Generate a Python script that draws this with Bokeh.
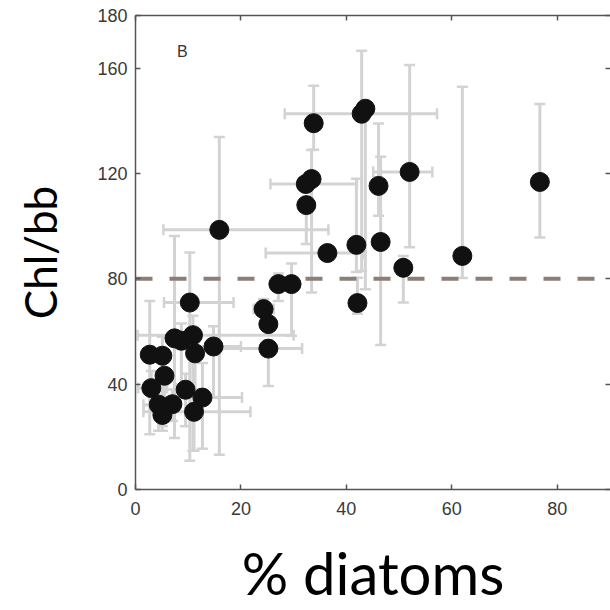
import numpy as np
from bokeh.plotting import figure
from bokeh.models import Range1d, FixedTicker, LinearAxis, Label
from bokeh.embed import file_html
from bokeh.resources import INLINE

nan = np.nan

# % diatoms (x) and Chl/bb (y) with error bounds (nan = no bar on that side)
diatoms = [15.9, 33.8, 42.9, 43.6, 33.4, 32.3, 32.4, 36.4, 52.0, 46.1, 46.5, 41.9,
           42.1, 50.8, 62.0, 76.7, 27.1, 29.6, 24.3, 25.2, 25.2, 10.3, 7.4, 8.7,
           10.9, 11.3, 14.8, 2.7, 5.1, 5.5, 3.0, 9.5, 12.7, 4.4, 7.0, 5.1, 11.1]
chl_bb = [98.6, 139.1, 142.7, 144.6, 117.9, 116.0, 108.0, 89.8, 120.6, 115.3, 94.0, 92.9,
          70.8, 84.2, 88.7, 116.8, 78.0, 78.0, 68.5, 62.8, 53.5, 71.0, 57.4, 56.5,
          58.6, 51.7, 54.3, 51.2, 50.8, 43.2, 38.5, 37.9, 34.9, 32.2, 32.4, 28.3, 29.5]
diatoms_lo = [5.3, nan, 28.3, nan, nan, 25.6, nan, 24.7, 45.1, nan, nan, nan,
              nan, nan, nan, nan, nan, nan, 22.4, nan, 14.8, 5.4, nan, nan,
              0.4, nan, 11.0, nan, nan, nan, 0.5, nan, 5.3, 1.5, nan, nan, 1.5]
diatoms_hi = [36.6, nan, 57.2, nan, nan, 42.0, nan, 43.3, 56.3, nan, nan, nan,
              nan, nan, nan, nan, nan, nan, 26.2, nan, 31.6, 18.6, nan, nan,
              30.0, nan, 20.0, nan, nan, nan, 6.0, nan, 20.2, 8.0, nan, nan, 21.8]
chl_lo = [13.2, 129.0, 83.0, 76.0, 74.8, nan, 93.2, nan, 92.0, 104.0, 54.9, 82.6,
          66.7, 71.0, 80.3, 95.7, 71.6, 58.4, nan, nan, 39.3, 10.9, 19.6, 40.0,
          14.7, 38.0, 35.0, 21.0, 22.3, 30.0, 32.0, 24.0, 15.5, 22.3, 26.0, 24.0, 14.7]
chl_hi = [133.9, 153.3, 166.6, nan, 128.9, nan, nan, nan, 161.2, 139.0, 126.4, 118.0,
          80.4, 88.7, 152.9, 146.4, 82.0, 85.8, 72.3, nan, 56.5, 90.0, 96.3, 63.0,
          66.0, 58.0, 62.0, 71.6, 58.0, 50.0, 45.0, 44.0, 48.0, 36.0, 38.0, 31.0, 36.0]

threshold = 80
x_ticks = [0, 20, 40, 60, 80]
y_ticks = [0, 40, 80, 120, 160, 180]
x_max, y_max = 90.1, 180

x = np.array(diatoms)
y = np.array(chl_bb)
xlo = np.array(diatoms_lo); xhi = np.array(diatoms_hi)
ylo = np.array(chl_lo); yhi = np.array(chl_hi)

seg_x0 = np.where(np.isnan(xlo), x, xlo)
seg_x1 = np.where(np.isnan(xhi), x, xhi)
seg_y0 = np.where(np.isnan(ylo), y, ylo)
seg_y1 = np.where(np.isnan(yhi), y, yhi)

p = figure(width=610, height=610, output_backend="svg", toolbar_location=None,
           x_range=Range1d(0, x_max), y_range=Range1d(0, y_max),
           min_border_left=135, min_border_right=0, min_border_top=15, min_border_bottom=121,
           x_axis_location=None, y_axis_location=None)
p.outline_line_color = None
p.grid.visible = False
p.background_fill_color = "white"
p.border_fill_color = "white"

AX = "#555555"
LBL = "#3a3a3a"
FONT = "Liberation Sans"

def style(ax, labels=True):
    ax.axis_line_color = AX
    ax.axis_line_width = 1.5
    ax.major_tick_in = 5
    ax.major_tick_out = 0
    ax.major_tick_line_color = AX
    ax.major_tick_line_width = 1.5
    ax.minor_tick_line_color = None
    if labels:
        ax.major_label_text_font = FONT
        ax.major_label_text_font_size = "18px"
        ax.major_label_text_color = LBL
    else:
        ax.major_label_text_font_size = "0px"
        ax.major_label_standoff = 0

left = LinearAxis(ticker=FixedTicker(ticks=y_ticks), axis_label="Chl/bb"); style(left)
left.major_label_standoff = 8
left.axis_label_text_font = "Lato"
left.axis_label_text_font_size = "44px"
left.axis_label_text_font_style = "normal"
left.axis_label_text_color = "#000000"
left.axis_label_standoff = 28

bottom = LinearAxis(ticker=FixedTicker(ticks=x_ticks), axis_label="% diatoms"); style(bottom)
bottom.major_label_standoff = 12
bottom.axis_label_text_font = "Lato"
bottom.axis_label_text_font_size = "58px"
bottom.axis_label_text_font_style = "normal"
bottom.axis_label_text_color = "#000000"
bottom.axis_label_standoff = 20

top = LinearAxis(ticker=FixedTicker(ticks=x_ticks)); style(top, False)
right = LinearAxis(ticker=FixedTicker(ticks=y_ticks)); style(right, False); right.axis_line_color = None
p.add_layout(left, "left")
p.add_layout(bottom, "below")
p.add_layout(top, "above")
p.add_layout(right, "right")

GRAY = "#d3d3d3"
p.segment(x0=x, y0=y, x1=x, y1=seg_y0, line_color=GRAY, line_width=3)
p.segment(x0=x, y0=y, x1=x, y1=seg_y1, line_color=GRAY, line_width=3)
p.segment(x0=seg_x0, y0=y, x1=x, y1=y, line_color=GRAY, line_width=3)
p.segment(x0=seg_x1, y0=y, x1=x, y1=y, line_color=GRAY, line_width=3)

cap_y = np.concatenate([ylo, yhi]); cap_yx = np.concatenate([x, x])
m = ~np.isnan(cap_y)
p.scatter(cap_yx[m], cap_y[m], marker="dash", size=11, line_color=GRAY, line_width=2.5)
cap_x = np.concatenate([xlo, xhi]); cap_xy = np.concatenate([y, y])
m = ~np.isnan(cap_x)
p.scatter(cap_x[m], cap_xy[m], marker="dash", size=11, angle=np.pi / 2,
          line_color=GRAY, line_width=2.5)

p.line([0, x_max], [threshold, threshold], line_color="#8a7f78", line_width=4,
       line_dash="17 17")

p.scatter(x, y, size=19, fill_color="#111111", line_color="#111111", line_width=1)

p.add_layout(Label(x=8.9, y=166.5, text="B", text_font=FONT, text_font_size="16px",
                   text_color="#333333", text_align="center", text_baseline="middle"))

open("out.html", "w").write(file_html(p, INLINE))
